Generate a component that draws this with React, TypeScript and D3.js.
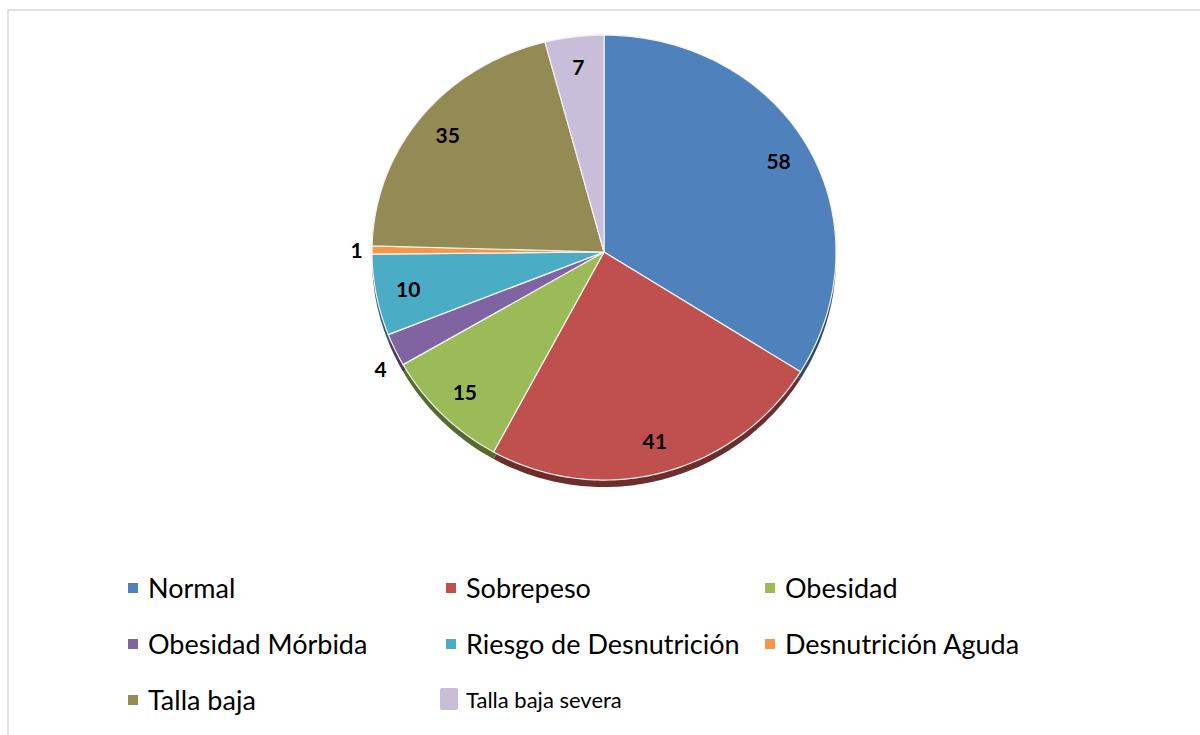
import React from "react";
import * as d3 from "d3";

const categories = [
  "Normal",
  "Sobrepeso",
  "Obesidad",
  "Obesidad Mórbida",
  "Riesgo de Desnutrición",
  "Desnutrición Aguda",
  "Talla baja",
  "Talla baja severa",
];
const values = [58, 41, 15, 4, 10, 1, 35, 7];
const colors = ["#4f81bd", "#c0504d", "#9bbb59", "#8064a2", "#4bacc6", "#f79646", "#948a54", "#c8bed9"];
const outsideLabel = [false, false, false, true, false, true, false, false];

const W = 1200;
const H = 735;
const CX = 604;
const CY = 252;
const R = 232;
const DEPTH = 7;

// slight perspective tilt: top squashed more than bottom
function project(angle: number, rad: number): [number, number] {
  const dx = rad * Math.sin(angle);
  const dy = -rad * Math.cos(angle);
  const a = 0.959;
  const b = 0.024 / R;
  return [CX + dx, CY + a * dy + b * dy * dy];
}

function slicePath(a0: number, a1: number, off = 0): string {
  const pts: [number, number][] = [[CX, CY + off]];
  const n = Math.max(4, Math.ceil(((a1 - a0) / (2 * Math.PI)) * 360));
  for (let i = 0; i <= n; i++) {
    const t = a0 + ((a1 - a0) * i) / n;
    const [x, y] = project(t, R);
    pts.push([x, y + off]);
  }
  return (d3.line()(pts) as string) + "Z";
}

export default function App() {
  const pie = d3.pie<number>().sort(null).value((d) => d);
  const arcs = pie(values);

  const legendCols = [128, 446, 765];
  const legendRows = [587, 643, 699];

  return (
    <div style={{ position: "absolute", left: 0, top: 0 }}>
      <svg width={W} height={H} style={{ display: "block" }}>
        <rect x={0} y={0} width={W} height={H} fill="#fff" />
        <rect x={8} y={10} width={W + 20} height={H + 20} fill="none" stroke="#d9d9d9" strokeWidth={1.5} />
        {/* 3D side */}
        <g>
          {arcs.map((a, i) => (
            <path
              key={"s" + i}
              d={slicePath(a.startAngle, a.endAngle, DEPTH)}
              fill={d3.color(colors[i])!.darker(1.6).formatHex()}
            />
          ))}
        </g>
        {/* top faces */}
        <g>
          {arcs.map((a, i) => (
            <path
              key={"t" + i}
              d={slicePath(a.startAngle, a.endAngle)}
              fill={colors[i]}
              stroke="#f2f2f2"
              strokeWidth={1.2}
              strokeLinejoin="round"
            />
          ))}
        </g>
        {/* labels */}
        <g fontFamily="Lato, 'Open Sans', sans-serif" fontWeight={700} fontSize={21} fill="#000">
          {arcs.map((a, i) => {
            const mid = (a.startAngle + a.endAngle) / 2;
            if (outsideLabel[i]) {
              const x = CX + 1.04 * R * Math.sin(mid);
              const y = CY - 1.15 * R * Math.cos(mid);
              return (
                <text key={"l" + i} x={x} y={y} textAnchor="end" dominantBaseline="central">
                  {values[i]}
                </text>
              );
            }
            const [x, y] = project(mid, R * 0.86);
            return (
              <text key={"l" + i} x={x} y={y} textAnchor="middle" dominantBaseline="central">
                {values[i]}
              </text>
            );
          })}
        </g>
        {/* legend */}
        <g fontFamily="Lato, 'Open Sans', sans-serif" fill="#000">
          {categories.map((c, i) => {
            const col = i % 3;
            const row = Math.floor(i / 3);
            const x = legendCols[col];
            const y = legendRows[row];
            const special = i === 7;
            if (special) {
              return (
                <g key={"g" + i}>
                  <rect x={x - 6} y={y - 11} width={18} height={22} rx={2} fill={colors[i]} />
                  <text x={x + 20} y={y} fontSize={22} dominantBaseline="central">
                    {c}
                  </text>
                </g>
              );
            }
            return (
              <g key={"g" + i}>
                <rect x={x} y={y - 4} width={10} height={10} fill={colors[i]} />
                <text x={x + 20} y={y} fontSize={27} dominantBaseline="central">
                  {c}
                </text>
              </g>
            );
          })}
        </g>
      </svg>
    </div>
  );
}
